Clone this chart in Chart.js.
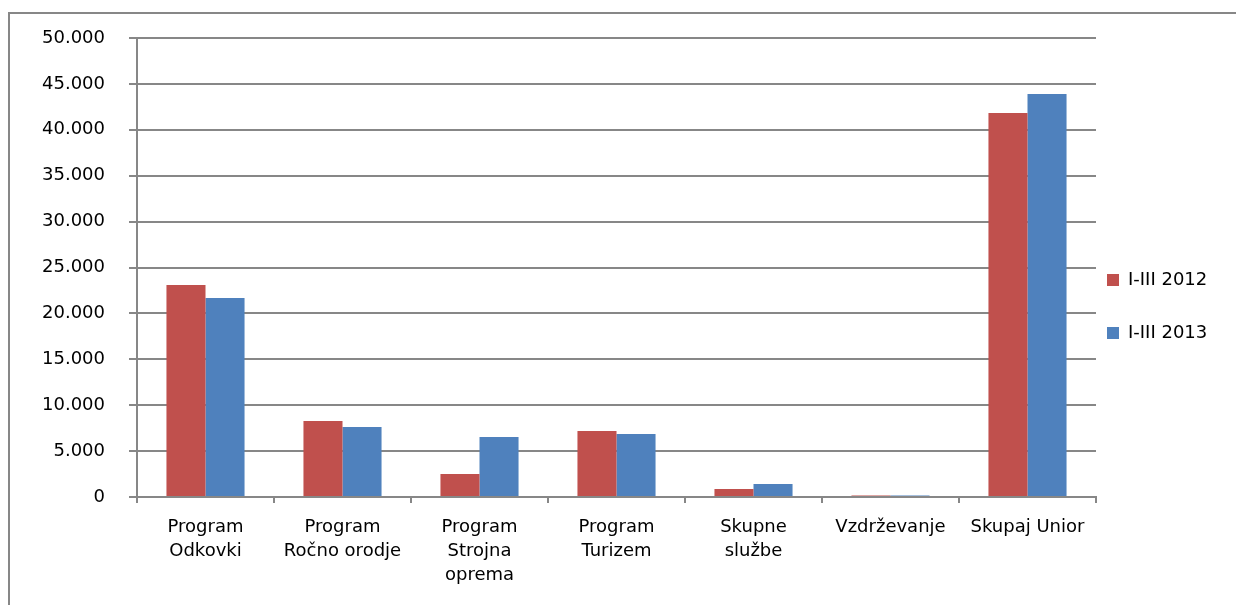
<!DOCTYPE html>
<html>
<head>
<meta charset="utf-8">
<script src="https://cdn.jsdelivr.net/npm/chart.js@4/dist/chart.umd.min.js"></script>
<style>
  html, body { margin: 0; padding: 0; background: #fff; overflow: hidden; }
  #frame { position: absolute; left: 8px; top: 12px; width: 1400px; height: 800px; border: 2px solid #878787; }
  #wrap { position: absolute; left: 0; top: 0; width: 1236px; height: 605px; }
</style>
</head>
<body>
<div id="frame"></div>
<div id="wrap"><canvas id="unitChart" width="1236" height="605"></canvas></div>
<script>
// Data
const categories = [
    ['Program', 'Odkovki'],
    ['Program', 'Ročno orodje'],
    ['Program', 'Strojna', 'oprema'],
    ['Program', 'Turizem'],
    ['Skupne', 'službe'],
    'Vzdrževanje',
    'Skupaj Unior'
];
const seriesNames = ['I-III 2012', 'I-III 2013'];
const values2012 = [23100, 8280, 2500, 7190, 870, 170, 41830];
const values2013 = [21680, 7630, 6540, 6860, 1420, 160, 43900];
const yTickLabels = ['0', '5.000', '10.000', '15.000', '20.000', '25.000', '30.000', '35.000', '40.000', '45.000', '50.000'];

const gridGray = '#878787';
const font = { family: 'DejaVu Sans', size: 18 };

// nudge the legend a bit to the left, like the original
const legendShift = {
    id: 'legendShift',
    afterLayout(chart) {
        const lg = chart.legend;
        if (!lg) return;
        lg.left -= 24; lg.right -= 24;
        lg.top -= 15; lg.bottom -= 15;
    }
};

const ctx = document.getElementById('unitChart').getContext('2d');
new Chart(ctx, {
type: 'bar',
data: {
    labels: categories,
    datasets: [{
        label: seriesNames[0],
        data: values2012,
        backgroundColor: '#C0504D',
        categoryPercentage: 0.57,
        barPercentage: 1.0
    }, {
        label: seriesNames[1],
        data: values2013,
        backgroundColor: '#4F81BD',
        categoryPercentage: 0.57,
        barPercentage: 1.0
    }]
},
options: {
    responsive: false,
    animation: false,
    layout: {
        padding: { top: 38, left: 0, right: 0, bottom: 0 }
    },
    scales: {
        x: {
            grid: {
                drawOnChartArea: false,
                color: gridGray,
                lineWidth: 2,
                tickLength: 6
            },
            border: { color: gridGray, width: 2 },
            ticks: {
                color: '#000',
                font: { family: font.family, size: font.size, lineHeight: 1.35 },
                padding: 12,
                maxRotation: 0,
                autoSkip: false
            },
            afterFit(scale) { scale.height = 108; }
        },
        y: {
            min: 0,
            max: 50000,
            grid: {
                color: gridGray,
                lineWidth: 2,
                tickLength: 8
            },
            border: { color: gridGray, width: 2 },
            ticks: {
                stepSize: 5000,
                color: '#000',
                font: font,
                padding: 24,
                callback: (v, i) => yTickLabels[i]
            },
            afterFit(scale) { scale.width = 137; }
        }
    },
    plugins: {
        tooltip: { enabled: false },
        legend: {
            position: 'right',
            maxWidth: 140,
            labels: {
                boxWidth: 12,
                boxHeight: 12,
                padding: 35,
                color: '#000',
                font: font
            }
        }
    }
},
plugins: [legendShift]
});
</script>
</body>
</html>
